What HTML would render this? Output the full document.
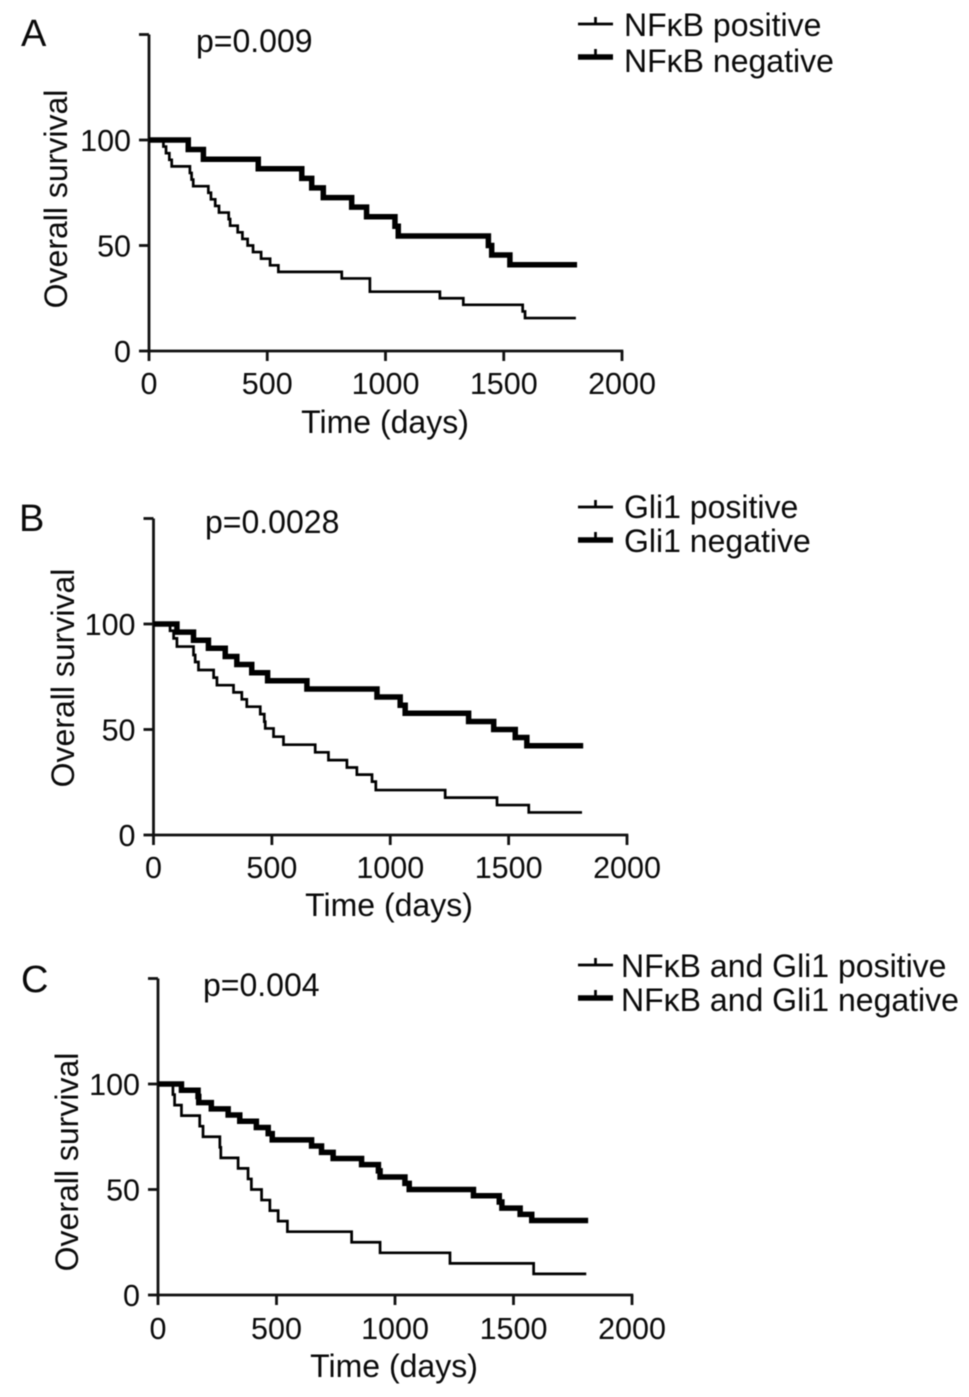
<!DOCTYPE html>
<html lang="en">
<head>
<meta charset="utf-8">
<title>Overall survival curves</title>
<style>
html,body{margin:0;padding:0;background:#fff;}
#figure{display:block;width:969px;height:1397px;filter:blur(0.45px);}
text{font-family:"Liberation Sans","DejaVu Sans",sans-serif;fill:#0a0a0a;}
.tick{font-size:30.5px;}
.axis-title{font-size:32px;text-anchor:middle;}
.legend{font-size:32px;}
.pval{font-size:32px;}
.letter{font-size:38px;}
.thin{fill:none;stroke:#000;stroke-width:2.7;}
.thick{fill:none;stroke:#000;stroke-width:5.5;}
.axis{stroke:#111;stroke-width:2.8;fill:none;}
</style>
</head>
<body>
<svg id="figure" xmlns="http://www.w3.org/2000/svg" width="969" height="1397" viewBox="0 0 969 1397">
  <g id="panel-a">
    <text class="letter" x="21" y="46">A</text>
    <text class="pval" x="196" y="52">p=0.009</text>
    <text class="axis-title" transform="translate(67,199) rotate(-90)">Overall survival</text>
    <text class="axis-title" x="385" y="433">Time (days)</text>
    <g>
      <path class="thin" d="M578 24H613M595.500 24V17"/>
      <text class="legend" x="624" y="36">NFκB positive</text>
      <path class="thick" d="M578 57H613"/>
      <path class="thin" d="M595.500 57V49"/>
      <text class="legend" x="624" y="72">NFκB negative</text>
    </g>
  </g>
  <g id="panel-b">
    <text class="letter" x="19" y="531">B</text>
    <text class="pval" x="205" y="533">p=0.0028</text>
    <text class="axis-title" transform="translate(74,678) rotate(-90)">Overall survival</text>
    <text class="axis-title" x="389" y="916">Time (days)</text>
    <g>
      <path class="thin" d="M578 507H613M595.500 507V500"/>
      <text class="legend" x="624" y="518">Gli1 positive</text>
      <path class="thick" d="M578 540H613"/>
      <path class="thin" d="M595.500 540V532"/>
      <text class="legend" x="624" y="552">Gli1 negative</text>
    </g>
  </g>
  <g id="panel-c">
    <text class="letter" x="21" y="992">C</text>
    <text class="pval" x="203" y="996">p=0.004</text>
    <text class="axis-title" transform="translate(78,1162) rotate(-90)">Overall survival</text>
    <text class="axis-title" x="394" y="1377">Time (days)</text>
    <g>
      <path class="thin" d="M578 965H613M595.500 965V958"/>
      <text class="legend" x="621" y="977">NFκB and Gli1 positive</text>
      <path class="thick" d="M578 998H613"/>
      <path class="thin" d="M595.500 998V990"/>
      <text class="legend" x="621" y="1011">NFκB and Gli1 negative</text>
    </g>
  </g>
</svg>
<script>
const xTicks = [0, 500, 1000, 1500, 2000];
const yTicks = [0, 50, 100, 150];
const yTickLabels = ['0', '50', '100', ''];

const panelAPositiveDays = [0, 61, 72, 86, 96, 173, 180, 187, 251, 262, 280, 296, 337, 343, 375, 395, 417, 440, 474, 479, 512, 547, 815, 934, 1230, 1329, 1580, 1590, 1805];
const panelAPositiveSurvival = [100, 96.9, 93.75, 90.6, 87.5, 84.4, 81.25, 78.1, 75, 71.9, 68.75, 65.6, 62.5, 59.4, 56.25, 53.1, 50, 46.9, 43.75, 43.75, 40.6, 37.5, 34.4, 28.1, 25, 21.9, 18.75, 15.6, 15.6];
const panelANegativeDays = [0, 166, 230, 462, 646, 688, 737, 857, 920, 1040, 1054, 1435, 1449, 1526, 1810];
const panelANegativeSurvival = [100, 95.5, 90.9, 86.4, 81.8, 77.3, 72.7, 68.2, 63.6, 59.1, 54.5, 50, 45.5, 40.9, 40.9];

const panelBPositiveDays = [0, 70, 85, 99, 169, 176, 190, 254, 268, 338, 373, 394, 451, 468, 472, 507, 549, 683, 739, 817, 859, 923, 939, 1232, 1451, 1585, 1810];
const panelBPositiveSurvival = [100, 96.8, 93.2, 89.3, 85.3, 82, 78.2, 74.6, 71, 67.6, 64.3, 60.8, 57.3, 53.7, 50.5, 46.6, 42.8, 39.2, 35.5, 32, 28.6, 25.3, 21.3, 17.7, 14.2, 10.7, 10.7];
const panelBNegativeDays = [0, 99, 169, 232, 303, 352, 415, 482, 648, 944, 1042, 1063, 1331, 1437, 1528, 1577, 1815];
const panelBNegativeSurvival = [100, 96.15, 92.3, 88.5, 84.6, 80.8, 76.9, 73.1, 69.2, 65.4, 61.5, 57.7, 53.8, 50, 46.2, 42.3, 42.3];

const panelCPositiveDays = [0, 63, 70, 99, 176, 190, 261, 265, 338, 380, 394, 437, 472, 507, 546, 817, 937, 1232, 1585, 1807];
const panelCPositiveSurvival = [100, 95, 90, 85, 80, 75, 70, 65, 60, 55, 50, 45, 40, 35, 30, 25, 20, 15, 10, 10];
const panelCNegativeDays = [0, 99, 169, 172, 225, 296, 345, 415, 465, 482, 648, 690, 739, 859, 930, 937, 1042, 1060, 1331, 1440, 1451, 1528, 1577, 1815];
const panelCNegativeSurvival = [100, 97.06, 94.1, 91.2, 88.2, 85.3, 82.35, 79.4, 76.5, 73.5, 70.6, 67.6, 64.7, 61.8, 58.8, 55.9, 52.9, 50, 47.06, 44.1, 41.2, 38.2, 35.3, 35.3];

const SVG_NS = 'http://www.w3.org/2000/svg';

function makeScale(domainA, domainB, rangeA, rangeB) {
  return function (v) {
    return rangeA + (v - domainA) * (rangeB - rangeA) / (domainB - domainA);
  };
}

function stepPath(days, survival, xScale, yScale) {
  let d = 'M' + xScale(days[0]).toFixed(2) + ' ' + yScale(survival[0]).toFixed(2);
  for (let i = 1; i < days.length; i++) {
    d += 'H' + xScale(days[i]).toFixed(2) + 'V' + yScale(survival[i]).toFixed(2);
  }
  return d;
}

function drawPanel(groupId, prefix, left, right, bottom, hundred, labelBaseline, positive, negative) {
  const group = document.getElementById(groupId);
  const xScale = makeScale(0, 2000, left, right);
  const yScale = makeScale(0, 100, bottom, hundred);

  const yAxis = document.createElementNS(SVG_NS, 'path');
  yAxis.setAttribute('class', 'axis');
  yAxis.setAttribute('d', 'M' + left + ' ' + yScale(150) + 'V' + (bottom + 1.3));
  
  
  group.appendChild(yAxis);

  const xAxis = document.createElementNS(SVG_NS, 'path');
  xAxis.setAttribute('class', 'axis');
  xAxis.setAttribute('d', 'M' + (left - 1.3) + ' ' + bottom + 'H' + (right + 1.3));
  
  
  group.appendChild(xAxis);

  yTicks.forEach(function (value, i) {
    const tick = document.createElementNS(SVG_NS, 'path');
    tick.setAttribute('class', 'axis');
    tick.setAttribute('d', 'M' + (left - 10) + ' ' + yScale(value) + 'H' + left);
    
    
    group.appendChild(tick);
    if (yTickLabels[i]) {
      const label = document.createElementNS(SVG_NS, 'text');
      label.setAttribute('class', 'tick');
      label.setAttribute('x', left - 18);
      label.setAttribute('y', yScale(value) + 11);
      label.setAttribute('text-anchor', 'end');
      
      
      label.textContent = yTickLabels[i];
      group.appendChild(label);
    }
  });

  xTicks.forEach(function (value) {
    const tick = document.createElementNS(SVG_NS, 'path');
    tick.setAttribute('class', 'axis');
    tick.setAttribute('d', 'M' + xScale(value) + ' ' + bottom + 'V' + (bottom + 10));
    
    
    group.appendChild(tick);
    const label = document.createElementNS(SVG_NS, 'text');
    label.setAttribute('class', 'tick');
    label.setAttribute('x', xScale(value));
    label.setAttribute('y', labelBaseline);
    label.setAttribute('text-anchor', 'middle');
    
    
    label.textContent = String(value);
    group.appendChild(label);
  });

  const thickLine = document.createElementNS(SVG_NS, 'path');
  thickLine.setAttribute('class', 'thick');
  thickLine.setAttribute('d', stepPath(negative[0], negative[1], xScale, yScale));
  
  
  group.appendChild(thickLine);

  const thinLine = document.createElementNS(SVG_NS, 'path');
  thinLine.setAttribute('class', 'thin');
  thinLine.setAttribute('d', stepPath(positive[0], positive[1], xScale, yScale));
  
  
  group.appendChild(thinLine);
}

drawPanel('panel-a', 'panel-a', 149, 622, 351, 140, 394, [panelAPositiveDays, panelAPositiveSurvival], [panelANegativeDays, panelANegativeSurvival]);
drawPanel('panel-b', 'panel-b', 153.500, 627, 835, 624, 878, [panelBPositiveDays, panelBPositiveSurvival], [panelBNegativeDays, panelBNegativeSurvival]);
drawPanel('panel-c', 'panel-c', 158, 632, 1295, 1084, 1339, [panelCPositiveDays, panelCPositiveSurvival], [panelCNegativeDays, panelCNegativeSurvival]);
</script>
</body>
</html>
